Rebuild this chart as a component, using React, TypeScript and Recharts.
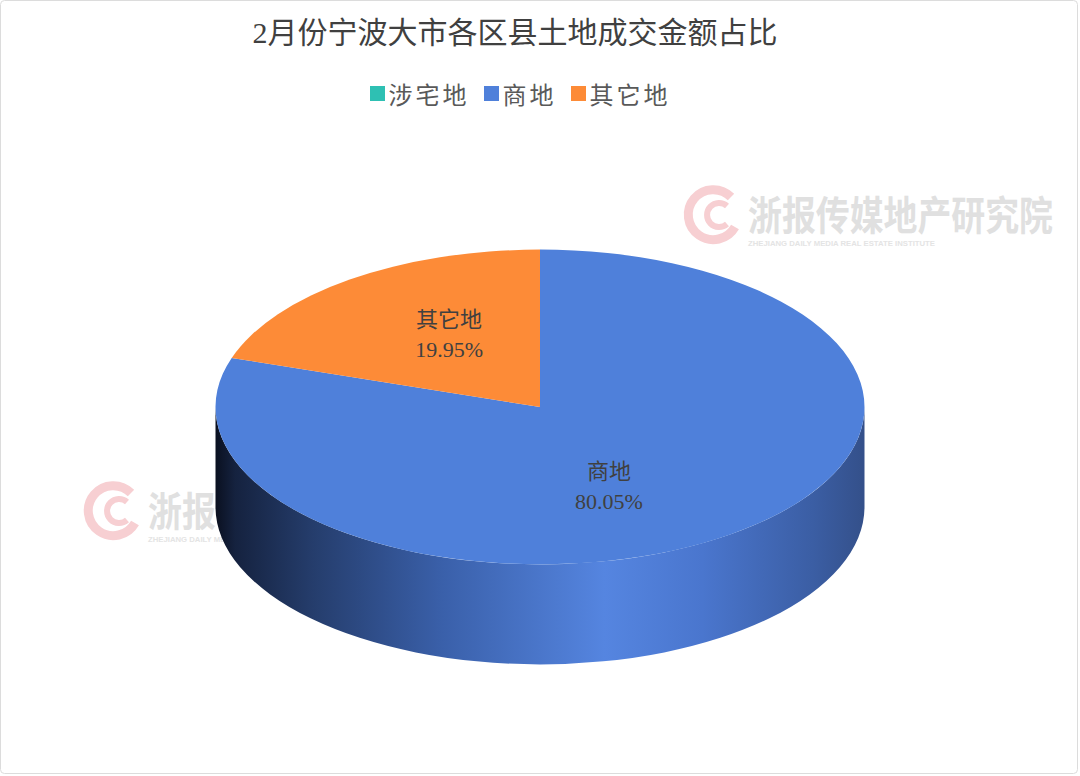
import React from 'react';
import { PieChart, Pie, Cell } from 'recharts';

// land categories and their share of February transaction value (%)
const categories = ['涉宅地', '商地', '其它地'];
const shares = [0, 80.05, 19.95];
const colors = ['#2EC0B3', '#4F80DA', '#FD8B37'];

const TITLE = '2月份宁波大市各区县土地成交金额占比';

const data = categories.map((name, i) => ({ name, value: shares[i] }));

// fake-3D geometry for the pie
const CX = 540;
const CY = 407;
const R = 324.5;
const TILT = 0.485;
const DEPTH = 100;

const pt = (cx: number, cy: number, r: number, deg: number) => {
    const a = (deg * Math.PI) / 180;
    return [cx + r * Math.cos(a), cy - r * Math.sin(a) * TILT];
};

function TiltedSector(props: any) {
    const { cx, cy, outerRadius: r, startAngle, endAngle, fill, index } = props;
    if (Math.abs(startAngle - endAngle) < 0.01) return null;
    const s = Math.max(startAngle, endAngle);
    const e = Math.min(startAngle, endAngle);
    const large = s - e > 180 ? 1 : 0;
    const [x1, y1] = pt(cx, cy, r, s);
    const [x2, y2] = pt(cx, cy, r, e);
    const top = `M${cx},${cy} L${x1},${y1} A${r},${r * TILT} 0 ${large} 1 ${x2},${y2} Z`;

    // side wall only for the part of the arc facing the viewer
    let wall = null;
    const a1 = Math.min(s, 0);
    const a2 = Math.max(e, -180);
    if (a1 > a2) {
        const [wx1, wy1] = pt(cx, cy, r, a1);
        const [wx2, wy2] = pt(cx, cy, r, a2);
        const wl = a1 - a2 > 180 ? 1 : 0;
        const d = `M${wx1},${wy1} A${r},${r * TILT} 0 ${wl} 1 ${wx2},${wy2} L${wx2},${wy2 + DEPTH} A${r},${r * TILT} 0 ${wl} 0 ${wx1},${wy1 + DEPTH} Z`;
        wall = <path d={d} fill={`url(#wall-${index})`} />;
    }

    return (
        <g>
            <defs>
                <linearGradient id={`wall-${index}`} gradientUnits="userSpaceOnUse" x1={cx - r} y1={0} x2={cx + r} y2={0}>
                    <stop offset="0%" stopColor="#0a1020" />
                    <stop offset="3%" stopColor="#15223f" />
                    <stop offset="15%" stopColor="#253d6c" />
                    <stop offset="35%" stopColor="#3a60aa" />
                    <stop offset="60%" stopColor="#5585e0" />
                    <stop offset="75%" stopColor="#4a76ce" />
                    <stop offset="92%" stopColor="#3b5ea4" />
                    <stop offset="100%" stopColor="#34508a" />
                </linearGradient>
            </defs>
            {wall}
            <path d={top} fill={fill} />
        </g>
    );
}

function SliceLabel(props: any) {
    const { cx, cy, midAngle, outerRadius, name, value } = props;
    if (!value) return null;
    const a = (midAngle * Math.PI) / 180;
    const x = cx + outerRadius * 0.42 * Math.cos(a) - 11;
    const y = cy - outerRadius * 0.29 * Math.sin(a) + 2;
    return (
        <text x={x} y={y} textAnchor="middle" fill="#404040" fontSize={22}
            fontFamily="'Liberation Serif', 'Noto Sans CJK SC', serif">
            <tspan x={x} dy={-6}>{name}</tspan>
            <tspan x={x} dy={30}>{value.toFixed(2)}%</tspan>
        </text>
    );
}

function LegendRow() {
    return (
        <div style={{ display: 'flex', justifyContent: 'center', alignItems: 'center', gap: 14 }}>
            {categories.map((c, i) => (
                <div key={c} style={{ display: 'flex', alignItems: 'center', gap: 4 }}>
                    <span style={{ width: 15, height: 15, background: colors[i], display: 'inline-block' }} />
                    <span style={{ fontSize: 24, color: '#595959', letterSpacing: 3 }}>{c}</span>
                </div>
            ))}
        </div>
    );
}

function Watermark({ x, y }: { x: number; y: number }) {
    return (
        <g>
            <path d={`M${x + 18},${y - 17} A25,25 0 1 0 ${x + 22},${y + 13}`} fill="none" stroke="#f7cfd2" strokeWidth={9} />
            <path d={`M${x + 14},${y - 8} A12,12 0 1 0 ${x + 14},${y + 10}`} fill="none" stroke="#f7cfd2" strokeWidth={6} />
            <text x={x + 35} y={y + 16} fontSize={40} fontWeight={700} fill="#e0e0e0"
                textLength={305} lengthAdjust="spacingAndGlyphs"
                fontFamily="'Noto Sans CJK SC', sans-serif">浙报传媒地产研究院</text>
            <text x={x + 35} y={y + 32} fontSize={8} fontWeight={700} fill="#e4e4e4"
                textLength={187} lengthAdjust="spacingAndGlyphs"
                fontFamily="'Liberation Sans', sans-serif">ZHEJIANG DAILY MEDIA REAL ESTATE INSTITUTE</text>
        </g>
    );
}

export default function App() {
    return (
        <div style={{ position: 'absolute', left: 0, top: 0, width: 1080, height: 776, background: '#fff',
            fontFamily: "'Liberation Serif', 'Noto Sans CJK SC', serif" }}>
            <svg width={1080} height={776} style={{ position: 'absolute', left: 0, top: 0 }}>
                <rect x={0.5} y={0.5} width={1077} height={773} rx={4} fill="#fff" stroke="#dcdcdc" />
                <Watermark x={713} y={214} />
                <Watermark x={113} y={510} />
            </svg>
            <div style={{ position: 'absolute', left: 0, top: 8, width: 1030, textAlign: 'center',
                fontSize: 30, color: '#404040' }}>{TITLE}</div>
            <div style={{ position: 'absolute', left: 0, top: 76, width: 1040 }}>
                <LegendRow />
            </div>
            <div style={{ position: 'absolute', left: 0, top: 0 }}>
                <PieChart width={1080} height={776} margin={{ top: 0, right: 0, bottom: 0, left: 0 }}>
                    <Pie
                        data={data}
                        dataKey="value"
                        nameKey="name"
                        cx={CX}
                        cy={CY}
                        outerRadius={R}
                        startAngle={90}
                        endAngle={-270}
                        stroke="none"
                        shape={TiltedSector}
                        label={SliceLabel}
                        labelLine={false}
                        isAnimationActive={false}
                    >
                        {data.map((d, i) => (
                            <Cell key={d.name} fill={colors[i]} />
                        ))}
                    </Pie>
                </PieChart>
            </div>
        </div>
    );
}
